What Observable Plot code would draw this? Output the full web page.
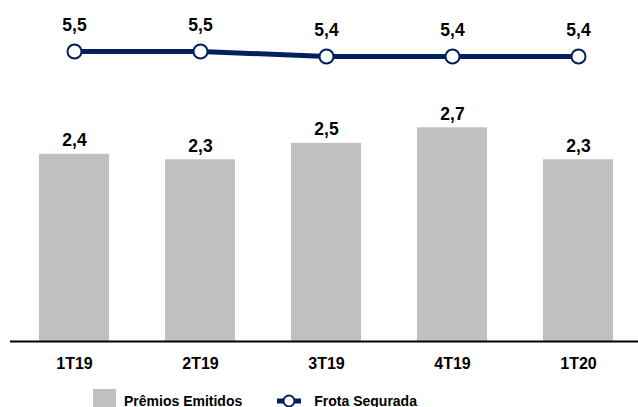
<!DOCTYPE html>
<html>
<head>
<meta charset="utf-8">
<script src="https://cdn.jsdelivr.net/npm/d3@7"></script>
<script src="https://cdn.jsdelivr.net/npm/@observablehq/plot@0.6"></script>
<style>
  body { margin: 0; background: #fff; font-family: "Liberation Sans", Arial, sans-serif; }
  #wrap { position: relative; width: 638px; height: 385px; }
  #wrap svg { position: absolute; left: 0; top: 0; }
  #legend { display: flex; align-items: center; margin-top: 4px; padding-left: 93px; font-weight: bold; font-size: 14px; line-height: 16px; color: #000; }
  .sw { width: 23px; height: 23px; background: #C0C0C0; margin-right: 8px; }
</style>
</head>
<body>
<div id="wrap"></div>
<div id="legend">
  <div class="sw"></div><span>Prêmios Emitidos</span>
  <svg width="26" height="16" style="margin-left:34px;margin-right:12px">
    <line x1="1" y1="8" x2="25" y2="8" stroke="#002060" stroke-width="5"/>
    <circle cx="13" cy="8" r="5.5" fill="#fff" stroke="#002060" stroke-width="2"/>
  </svg><span>Frota Segurada</span>
</div>
<script>
const categories = ["1T19", "2T19", "3T19", "4T19", "1T20"];
const premios = [2.40, 2.33, 2.54, 2.74, 2.33];
const frota = [5.5, 5.5, 5.4, 5.4, 5.4];

const barData = categories.map((c, i) => ({cat: c, v: premios[i]}));
const lineData = categories.map((c, i) => ({cat: c, v: frota[i]}));
const fmt = v => v.toFixed(1).replace(".", ",");
const font = "Liberation Sans, Arial, sans-serif";

const xScale = {type: "band", domain: categories, paddingInner: 0.446, paddingOuter: 0.223, align: 0.5};

const main = Plot.plot({
  width: 638, height: 385,
  marginLeft: 10, marginRight: -3, marginTop: 0, marginBottom: 44,
  style: {fontFamily: font, background: "transparent"},
  x: {...xScale, axis: null},
  y: {domain: [0, 4.372], axis: null},
  marks: [
    Plot.barY(barData, {x: "cat", y: "v", fill: "#C0C0C0"}),
    Plot.text(barData, {x: "cat", y: "v", text: d => fmt(d.v), dy: -8, lineAnchor: "bottom", fontWeight: "bold", fontSize: 17.5, fill: "#000"}),
    Plot.ruleY([0], {stroke: "#000", strokeWidth: 2}),
    Plot.axisX({tickSize: 0, tickPadding: 16, fontWeight: "bold", fontSize: 16, fill: "#000", label: null})
  ]
});

const overlay = Plot.plot({
  width: 638, height: 385,
  marginLeft: 10, marginRight: -3, marginTop: 26, marginBottom: 59,
  style: {fontFamily: font, background: "transparent"},
  x: {...xScale, axis: null},
  y: {domain: [0, 6], axis: null},
  marks: [
    Plot.line(lineData, {x: "cat", y: "v", stroke: "#002060", strokeWidth: 5}),
    Plot.dot(lineData, {x: "cat", y: "v", r: 7, fill: "#fff", stroke: "#002060", strokeWidth: 2}),
    Plot.text(lineData, {x: "cat", y: "v", text: d => fmt(d.v), dy: -21, lineAnchor: "bottom", fontWeight: "bold", fontSize: 17.5, fill: "#000"})
  ]
});

document.getElementById("wrap").append(main, overlay);
</script>
</body>
</html>
